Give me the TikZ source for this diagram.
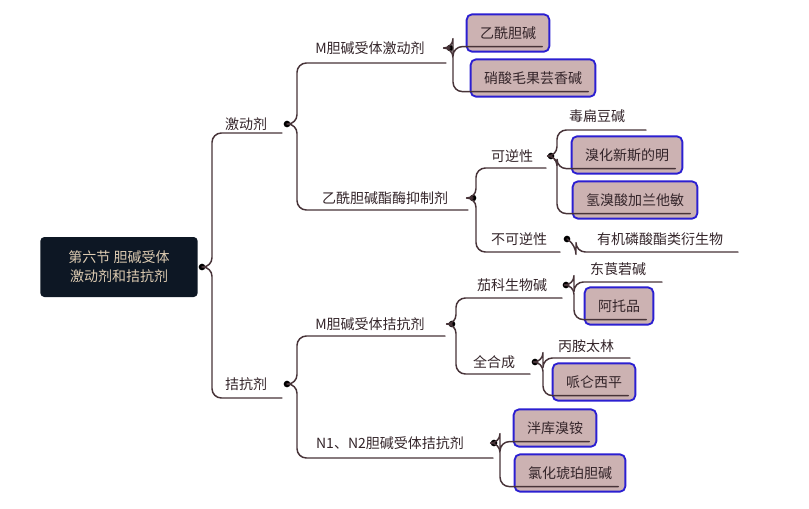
\documentclass[tikz,border=0pt]{standalone}
\usepackage{fontspec}
\setmainfont{Noto Sans CJK SC}
\usetikzlibrary{calc}

\definecolor{lnc}{rgb}{0.28,0.2,0.22}
\definecolor{txc}{rgb}{0.2,0.14,0.16}
\definecolor{boxf}{rgb}{0.80,0.70,0.70}
\definecolor{boxd}{rgb}{0.17,0.12,0.82}
\definecolor{rootf}{rgb}{0.05,0.09,0.14}
\definecolor{roott}{rgb}{0.87,0.80,0.70}

\begin{document}
\begin{tikzpicture}[x=0.75pt,y=-0.75pt,line cap=round,line join=round,
  ln/.style={draw=lnc,line width=1.1pt,rounded corners=7pt},
  lab/.style={text=txc,font=\fontsize{10.5}{12}\selectfont,inner sep=1pt},
  bx/.style={lab,draw=boxd,line width=1.4pt,fill=boxf,rounded corners=4pt,minimum height=28pt,inner xsep=10pt},
  dot/.style={circle,fill=black,inner sep=0pt,minimum size=5pt}]
\useasboundingbox (0,0) rectangle (809,508);

% root
\node[fill=rootf,text=roott,rounded corners=3pt,minimum width=118pt,minimum height=45pt,align=center,font=\fontsize{10.5}{14}\selectfont] (root) at (119,267) {第六节 胆碱受体\\激动剂和拮抗剂};
\node[dot] (rd) at (202,267) {};

% first level
\node[lab] (jd) at (246,124) {激动剂};
\node[dot] (jdd) at (287,124) {};
\node[lab] (jk) at (246,384) {拮抗剂};
\node[dot] (jkd) at (287,384) {};
\draw[ln] (rd.center) -- (212,267) |- (282,133);
\draw[ln] (rd.center) -- (212,267) |- (282,398);

% agonists
\node[lab] (mjd) at (370,48) {M胆碱受体激动剂};
\node[dot] (mjdd) at (450,48) {};
\node[lab] (yxm) at (385,198) {乙酰胆碱酯酶抑制剂};
\node[dot] (yxmd) at (473,198) {};
\draw[ln] (jdd.center) -- (297,124) |- (446,63);
\draw[ln] (jdd.center) -- (297,124) |- (468,210);

\node[bx] (yxdj) at (508,33) {乙酰胆碱};
\node[bx] (xsmg) at (533,78) {硝酸毛果芸香碱};
\draw[ln] (mjdd.center) -- (453,48) |- ([shift={(10,-6)}]yxdj.south west) -- ([shift={(-8,-6)}]yxdj.south east);
\draw[ln] (mjdd.center) -- (453,48) |- ([shift={(10,-6)}]xsmg.south west) -- ([shift={(-8,-6)}]xsmg.south east);

\node[lab] (knx) at (512,156) {可逆性};
\node[dot] (knxd) at (551,156) {};
\node[lab] (bknx) at (519,239) {不可逆性};
\node[dot] (bknxd) at (567,239) {};
\draw[ln] (yxmd.center) -- (476,198) |- (546,168);
\draw[ln] (yxmd.center) -- (476,198) |- (560,252);

\node[lab] (dbd) at (597,116) {毒扁豆碱};
\node[bx] (xhxs) at (627,155) {溴化新斯的明};
\node[bx] (qxs) at (635,200) {氢溴酸加兰他敏};
\draw[ln] (knxd.center) -- (557,156) |- (646,130);
\draw[ln] (knxd.center) -- (557,156) |- ([shift={(10,-6)}]xhxs.south west) -- ([shift={(-8,-6)}]xhxs.south east);
\draw[ln] (knxd.center) -- (557,156) |- ([shift={(10,-6)}]qxs.south west) -- ([shift={(-8,-6)}]qxs.south east);

\node[lab] (yjl) at (660,239) {有机磷酸酯类衍生物};
\draw[ln] (bknxd.center) -- (576,245) -- (576,252) -- (738,252);

% antagonists
\node[lab] (mjk) at (370,324) {M胆碱受体拮抗剂};
\node[dot] (mjkd) at (452,324) {};
\node[lab] (nnj) at (390,443) {N1、N2胆碱受体拮抗剂};
\node[dot] (nnjd) at (494,443) {};
\draw[ln] (jkd.center) -- (297,384) |- (445,336);
\draw[ln] (jkd.center) -- (297,384) |- (493,458);

\node[lab] (qk) at (512,285) {茄科生物碱};
\node[dot] (qkd) at (566,285) {};
\node[lab] (qhc) at (494,362) {全合成};
\node[dot] (qhcd) at (535,362) {};
\draw[ln] (mjkd.center) -- (456,324) |- (562,298);
\draw[ln] (mjkd.center) -- (456,324) |- (530,374);

\node[lab] (dlr) at (618,269) {东莨菪碱};
\node[bx] (atp) at (619,306) {阿托品};
\draw[ln] (qkd.center) -- (574,285) |- (662,282);
\draw[ln] (qkd.center) -- (574,285) |- ([shift={(10,-6)}]atp.south west) -- ([shift={(-8,-6)}]atp.south east);

\node[lab] (bat) at (586,346) {丙胺太林};
\node[bx] (plx) at (594,382) {哌仑西平};
\draw[ln] (qhcd.center) -- (543,362) |- (630,358);
\draw[ln] (qhcd.center) -- (543,362) |- ([shift={(10,-6)}]plx.south west) -- ([shift={(-8,-6)}]plx.south east);

\node[bx] (pkx) at (555,428) {泮库溴铵};
\node[bx] (lhh) at (570,473) {氯化琥珀胆碱};
\draw[ln] (nnjd.center) -- (500,443) |- ([shift={(10,-6)}]pkx.south west) -- ([shift={(-8,-6)}]pkx.south east);
\draw[ln] (nnjd.center) -- (500,443) |- ([shift={(10,-6)}]lhh.south west) -- ([shift={(-8,-6)}]lhh.south east);
\end{tikzpicture}
\end{document}
